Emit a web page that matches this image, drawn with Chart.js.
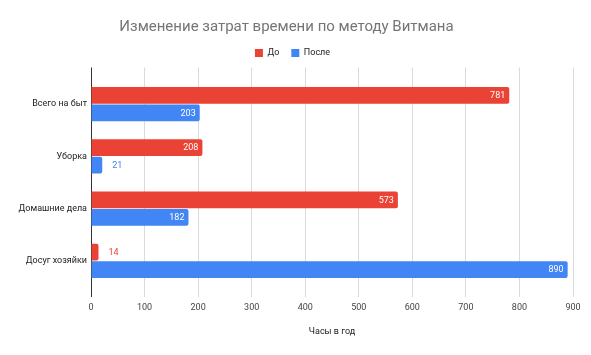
<!DOCTYPE html>
<html>
<head>
<meta charset="utf-8">
<script src="https://cdn.jsdelivr.net/npm/chart.js@4.4.1/dist/chart.umd.min.js"></script>
<style>
html,body{margin:0;padding:0;background:#fff;}
#wrap{width:591px;height:355px;position:relative;}
</style>
</head>
<body>
<div id="wrap"><canvas id="c"></canvas></div>
<script>
const categories = ["Всего на быт", "Уборка", "Домашние дела", "Досуг хозяйки"];
const before = [781, 208, 573, 14];
const after = [203, 21, 182, 890];
const seriesNames = ["До", "После"];
const xTicks = [0, 100, 200, 300, 400, 500, 600, 700, 800, 900];
const chartTitle = "Изменение затрат времени по методу Витмана";
const axisTitle = "Часы в год";

const RED = "#EA4335", BLUE = "#4285F4";
const FONT = 'Roboto, "Liberation Sans", Arial, sans-serif';
Chart.defaults.font.family = FONT;
const SMALL = 9;

const valueLabels = {
  id: 'valueLabels',
  afterDatasetsDraw(chart) {
    const ctx = chart.ctx;
    ctx.save();
    ctx.font = SMALL + 'px ' + FONT;
    ctx.textBaseline = 'middle';
    chart.data.datasets.forEach((ds, di) => {
      const meta = chart.getDatasetMeta(di);
      meta.data.forEach((bar, i) => {
        const text = String(ds.data[i]);
        const w = ctx.measureText(text).width;
        if (bar.x - bar.base > w + 12) {
          ctx.fillStyle = '#ffffff';
          ctx.textAlign = 'right';
          ctx.fillText(text, bar.x - 4, bar.y + 0.5);
        } else {
          ctx.fillStyle = ds.backgroundColor;
          ctx.textAlign = 'left';
          ctx.fillText(text, bar.x + 10, bar.y + 0.5);
        }
      });
    });
    ctx.restore();
  }
};

const legendCenter = {
  id: 'legendCenter',
  beforeInit(chart) {
    const lg = chart.legend;
    const orig = lg.fit;
    lg.fit = function () {
      orig.call(this);
      if (this.lineWidths && this.lineWidths.length) {
        this.lineWidths[0] -= this.options.labels.padding;
      }
    };
  }
};

new Chart(document.getElementById('c'), {
  type: 'bar',
  data: {
    labels: categories,
    datasets: [
      { label: seriesNames[0], data: before, backgroundColor: RED, borderRadius: 2, borderSkipped: 'start',
        categoryPercentage: 0.67, barPercentage: 0.95 },
      { label: seriesNames[1], data: after, backgroundColor: BLUE, borderRadius: 2, borderSkipped: 'start',
        categoryPercentage: 0.67, barPercentage: 0.95 }
    ]
  },
  options: {
    indexAxis: 'y',
    responsive: true,
    maintainAspectRatio: false,
    animation: false,
    layout: { padding: { left: 0, right: 18, top: 0, bottom: 14 } },
    plugins: {
      title: {
        display: true, text: chartTitle, color: '#757575',
        font: { size: 15, weight: 'normal' }, padding: { top: 18, bottom: 0.5 }
      },
      legend: {
        display: true, position: 'top',
        labels: { color: '#222', font: { size: SMALL }, boxWidth: 8, boxHeight: 8, padding: 12 }
      },
      tooltip: { enabled: false }
    },
    scales: {
      x: {
        type: 'linear', min: 0, max: 900,
        afterBuildTicks(scale) { scale.ticks = xTicks.map(v => ({ value: v })); },
        ticks: { color: '#444', font: { size: SMALL }, padding: 5 },
        grid: {
          drawTicks: false,
          color: (c) => (c.tick && c.tick.value === 0) ? '#333' : '#dadada'
        },
        border: { display: false },
        title: { display: true, text: axisTitle, color: '#222', font: { size: SMALL }, padding: { top: 8, bottom: 4 } }
      },
      y: {
        type: 'category',
        afterBuildTicks(scale) {
          const e = 0.2;
          scale._startValue = -0.5 - e;
          scale._valueRange = categories.length + 2 * e;
        },
        afterFit(scale) { scale.width = 91; },
        ticks: { color: '#222', font: { size: SMALL }, padding: 4 },
        grid: { display: false, drawTicks: false },
        border: { display: false }
      }
    }
  },
  plugins: [valueLabels, legendCenter]
});
</script>
</body>
</html>
